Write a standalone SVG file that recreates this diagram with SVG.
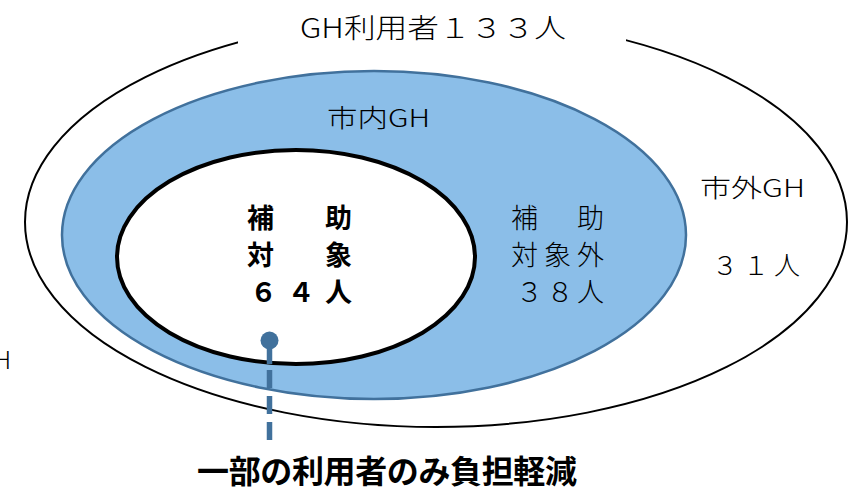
<svg xmlns="http://www.w3.org/2000/svg" width="857" height="497" viewBox="0 0 857 497">
<style>
text{font-family:"Noto Sans CJK JP","Noto Sans",sans-serif;fill:#000}
.l{font-weight:300}
.b{font-weight:700}
</style>
<rect width="857" height="497" fill="#fff"/>
<g id="outer">
<ellipse cx="436" cy="222" rx="411" ry="205" fill="#fff" stroke="#000" stroke-width="2"/>
<rect x="238" y="0" width="388" height="50" fill="#fff"/>
<text class="l" x="300" y="38" font-size="27" textLength="266" lengthAdjust="spacingAndGlyphs">GH利用者１３３人</text>
<text class="l" x="700" y="197" font-size="25" textLength="105" lengthAdjust="spacingAndGlyphs">市外GH</text>
<text class="l" x="712" y="275" font-size="26" textLength="88" lengthAdjust="spacing">３１人</text>
</g>
<g id="city">
<ellipse cx="374" cy="235" rx="312" ry="164" fill="#8BBEE8" stroke="#41719C" stroke-width="2.5"/>
<text class="l" x="327" y="127" font-size="25" textLength="103" lengthAdjust="spacingAndGlyphs">市内GH</text>
<text class="l" x="511" y="228" font-size="27" textLength="93" lengthAdjust="spacing">補　助</text>
<text class="l" x="511" y="265" font-size="27" textLength="93" lengthAdjust="spacing">対象外</text>
<text class="l" x="516" y="302" font-size="27" textLength="88" lengthAdjust="spacing">３８人</text>
</g>
<g id="subsidy">
<ellipse cx="296" cy="257" rx="179" ry="107" fill="#fff" stroke="#000" stroke-width="4"/>
<text class="b" x="247" y="228" font-size="27" textLength="105" lengthAdjust="spacing">補　助</text>
<text class="b" x="247" y="265" font-size="27" textLength="105" lengthAdjust="spacing">対　象</text>
<text class="b" x="250" y="302" font-size="27" textLength="102" lengthAdjust="spacing">６４人</text>
</g>
<g id="left-label">
<text class="l" x="-6" y="369" font-size="24">H</text>
</g>
<g id="connectors" stroke="#41719C" stroke-width="5.5" fill="none">
<circle cx="269.5" cy="340.5" r="9" fill="#41719C" stroke="none"/>
<path d="M269.5 340V364"/>
<path d="M269.5 370V441" stroke-dasharray="18 8"/>
</g>
<g id="note">
<text class="b" x="197" y="483" font-size="32" textLength="380" lengthAdjust="spacing">一部の利用者のみ負担軽減</text>
</g>
</svg>
